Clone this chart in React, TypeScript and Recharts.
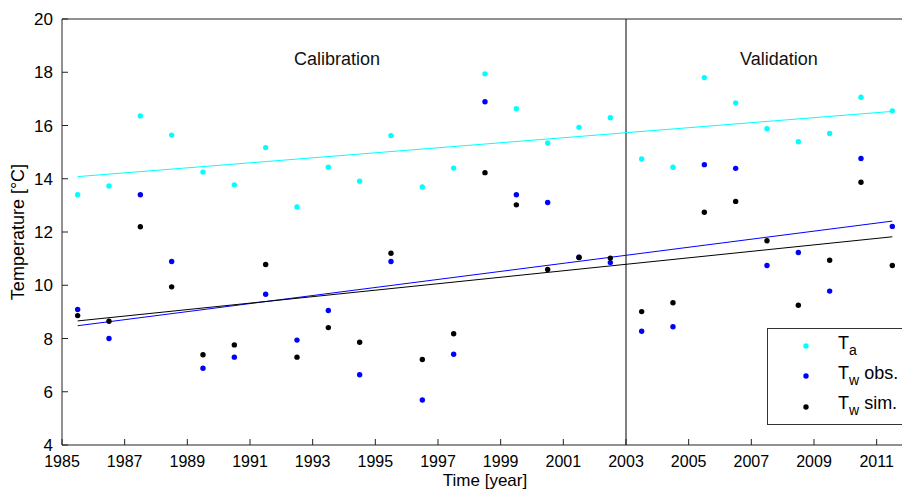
import React from "react";
import {
  ComposedChart,
  Scatter,
  Line,
  XAxis,
  YAxis,
  ReferenceLine,
  ReferenceDot,
  Legend,
} from "recharts";

const years = [
  1985.5, 1986.5, 1987.5, 1988.5, 1989.5, 1990.5, 1991.5, 1992.5, 1993.5,
  1994.5, 1995.5, 1996.5, 1997.5, 1998.5, 1999.5, 2000.5, 2001.5, 2002.5,
  2003.5, 2004.5, 2005.5, 2006.5, 2007.5, 2008.5, 2009.5, 2010.5, 2011.5,
];

const ta = [
  13.4, 13.73, 16.36, 15.64, 14.25, 13.77, 15.17, 12.94, 14.43, 13.91, 15.62,
  13.69, 14.4, 17.94, 16.63, 15.34, 15.93, 16.29, 14.74, 14.43, 17.8, 16.85,
  15.88, 15.39, 15.7, 17.06, 16.55,
];

const twObs = [
  9.09, 8.0, 13.4, 10.89, 6.88, 7.3, 9.66, 7.94, 9.05, 6.64, 10.89, 5.69,
  7.41, 16.89, 13.4, 13.11, 11.05, 10.85, 8.27, 8.44, 14.53, 14.39, 10.74,
  11.23, 9.78, 14.76, 12.21,
];

const twSim = [
  8.86, 8.65, 12.2, 9.94, 7.39, 7.76, 10.78, 7.3, 8.41, 7.86, 11.2, 7.21,
  8.18, 14.23, 13.02, 10.59, 11.04, 11.02, 9.01, 9.34, 12.74, 13.15, 11.67,
  9.25, 10.94, 13.87, 10.74,
];

const trendYears = [1985.5, 2011.5];
const taTrend = [14.08, 16.53];
const obsTrend = [8.48, 12.41];
const simTrend = [8.66, 11.82];

const xTicks = [1985, 1987, 1989, 1991, 1993, 1995, 1997, 1999, 2001, 2003, 2005, 2007, 2009, 2011];
const yTicks = [4, 6, 8, 10, 12, 14, 16, 18, 20];
const xDomain = [1985, 2012];
const yDomain = [4, 20];
const splitYear = 2003;

const periodLabels = [
  { text: "Calibration", x: 1993.78, y: 18.53 },
  { text: "Validation", x: 2007.88, y: 18.53 },
];

const legendItems = [
  { main: "T", sub: "a", rest: "", color: "#00FFFF" },
  { main: "T", sub: "w", rest: " obs.", color: "#0000FF" },
  { main: "T", sub: "w", rest: " sim.", color: "#000000" },
];

const toPoints = (xs: number[], ys: number[]) => xs.map((x, i) => ({ x, y: ys[i] }));

const taData = toPoints(years, ta);
const obsData = toPoints(years, twObs);
const simData = toPoints(years, twSim);
const taTrendData = toPoints(trendYears, taTrend);
const obsTrendData = toPoints(trendYears, obsTrend);
const simTrendData = toPoints(trendYears, simTrend);

const FONT = "'Liberation Sans', Arial, Helvetica, sans-serif";
const AXIS = "#222";

const dot = (color: string) => (props: any) => (
  <circle cx={props.cx} cy={props.cy} r={2.7} fill={color} stroke="none" />
);

const LegendBox = () => (
  <svg width={136} height={97} style={{ display: "block", fontFamily: FONT }}>
    <rect x={0.5} y={0.5} width={135} height={96} fill="#fff" stroke="#333" strokeWidth={1} />
    {legendItems.map((it, i) => {
      const base = 21 + i * 30;
      return (
        <g key={i}>
          <circle cx={39} cy={base - 3 + (i === 2 ? 1 : 0)} r={2.7} fill={it.color} />
          <text x={71} y={base} fontSize={18} fill="#000">
            {it.main}
            <tspan dy={6} fontSize={14}>{it.sub}</tspan>
            <tspan dy={-6} fontSize={18}>{it.rest}</tspan>
          </text>
        </g>
      );
    })}
  </svg>
);

export default function App() {
  return (
    <div style={{ width: 902, height: 482, fontFamily: FONT }}>
      <ComposedChart
        width={902}
        height={482}
        margin={{ top: 10, right: 1, bottom: 0, left: 0 }}
        style={{ fontFamily: FONT }}
      >
        <XAxis
          xAxisId={0}
          dataKey="x"
          type="number"
          domain={xDomain}
          ticks={xTicks}
          height={45}
          tickSize={-6}
          tickMargin={17}
          stroke={AXIS}
          tick={{ fill: "#000", fontSize: 16 }}
          label={{ value: "Time [year]", position: "insideBottom", offset: 4, fontSize: 17, fill: "#000" }}
        />
        <XAxis
          xAxisId="top"
          orientation="top"
          type="number"
          domain={xDomain}
          ticks={xTicks}
          height={1}
          tickSize={-6}
          tick={false}
          stroke={AXIS}
        />
        <YAxis
          yAxisId={0}
          dataKey="y"
          type="number"
          domain={yDomain}
          ticks={yTicks}
          width={54}
          tickSize={-6}
          tickMargin={15}
          stroke={AXIS}
          tick={{ fill: "#000", fontSize: 17 }}
          label={{
            value: "Temperature [°C]",
            angle: -90,
            position: "insideLeft",
            offset: 10,
            fontSize: 18,
            fill: "#000",
            style: { textAnchor: "middle" },
          }}
        />
        <YAxis
          yAxisId="right"
          orientation="right"
          type="number"
          domain={yDomain}
          ticks={yTicks}
          width={1}
          tickSize={-6}
          tick={false}
          stroke={AXIS}
        />
        <ReferenceLine x={splitYear} stroke="#000" strokeWidth={1} />
        {periodLabels.map((p) => (
          <ReferenceDot
            key={p.text}
            x={p.x}
            y={p.y}
            r={0}
            stroke="none"
            fill="none"
            label={{ value: p.text, position: "center", fontSize: 18, fill: "#111" }}
          />
        ))}
        <Line data={taTrendData} dataKey="y" stroke="#00FFFF" strokeWidth={1} dot={false} isAnimationActive={false} legendType="none" />
        <Line data={obsTrendData} dataKey="y" stroke="#0000FF" strokeWidth={1} dot={false} isAnimationActive={false} legendType="none" />
        <Line data={simTrendData} dataKey="y" stroke="#000000" strokeWidth={1} dot={false} isAnimationActive={false} legendType="none" />
        <Scatter name="Ta" data={taData} dataKey="y" shape={dot("#00FFFF")} isAnimationActive={false} />
        <Scatter name="Tw obs." data={obsData} dataKey="y" shape={dot("#0000FF")} isAnimationActive={false} />
        <Scatter name="Tw sim." data={simData} dataKey="y" shape={dot("#000000")} isAnimationActive={false} />
        <Legend
          layout="vertical"
          align="center"
          verticalAlign="middle"
          width={136}
          height={97}
          wrapperStyle={{ left: 759, top: 320, width: 136, height: 97 }}
          content={() => <LegendBox />}
        />
      </ComposedChart>
    </div>
  );
}
